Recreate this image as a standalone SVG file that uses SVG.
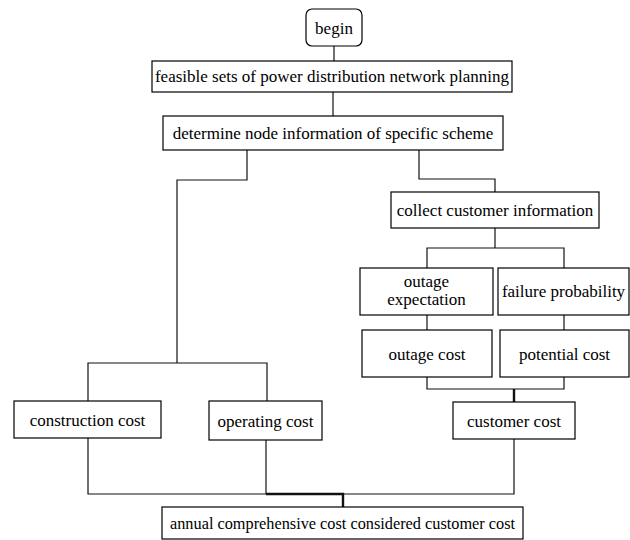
<svg xmlns="http://www.w3.org/2000/svg" width="630" height="540" viewBox="0 0 630 540">
<style>
rect{fill:#fff;stroke:#000;stroke-width:1.2}
text{font-family:"Liberation Serif","Times New Roman",serif;font-size:17px;fill:#000;text-anchor:middle}
.c path{fill:none;stroke:#111;stroke-width:1.2}
.c .thick{stroke-width:2.4}
</style>
<rect width="630" height="540" style="fill:#fff;stroke:none"/>
<g class="c" id="connectors">
<path d="M334,46V61"/>
<path d="M333,92V116"/>
<path d="M247,150V180H177V363"/>
<path d="M88,401V363H267V401"/>
<path d="M419,150V179H495V192"/>
<path d="M495,228V248"/>
<path d="M427,268V248H564V268"/>
<path d="M427,315V330"/>
<path d="M564,315V330"/>
<path d="M427,377V389H564V377"/>
<path class="thick" d="M514,389V402"/>
<path d="M88,438V494H514V439"/>
<path d="M266,440V494"/>
<path class="thick" d="M266,494H343V507"/>
</g>
<g id="begin"><rect x="306" y="9" width="56" height="37" rx="6"/><text x="334" y="33.5">begin</text></g>
<g id="feasible"><rect x="152" y="61" width="360" height="31"/><text x="332" y="82">feasible sets of power distribution network planning</text></g>
<g id="determine"><rect x="163" y="116" width="340" height="34"/><text x="333" y="139">determine node information of specific scheme</text></g>
<g id="collect"><rect x="391" y="192" width="208" height="36"/><text x="495" y="216">collect customer information</text></g>
<g id="outage-expectation"><rect x="360" y="268" width="133" height="47"/><text x="426.5" y="287">outage</text><text x="426.5" y="305">expectation</text></g>
<g id="failure-probability"><rect x="498" y="268" width="131" height="47"/><text x="563.5" y="297">failure probability</text></g>
<g id="outage-cost"><rect x="362" y="330" width="130" height="47"/><text x="427" y="359.5">outage cost</text></g>
<g id="potential-cost"><rect x="500" y="330" width="129" height="47"/><text x="564.5" y="359.5">potential cost</text></g>
<g id="construction-cost"><rect x="14" y="401" width="147" height="37"/><text x="87.5" y="426">construction cost</text></g>
<g id="operating-cost"><rect x="209" y="401" width="113" height="39"/><text x="265.5" y="426.5">operating cost</text></g>
<g id="customer-cost"><rect x="453" y="402" width="122" height="37"/><text x="514" y="427">customer cost</text></g>
<g id="annual"><rect x="162" y="507" width="361" height="32"/><text x="342.5" y="529" textLength="345" lengthAdjust="spacingAndGlyphs">annual comprehensive cost considered customer cost</text></g>
</svg>
